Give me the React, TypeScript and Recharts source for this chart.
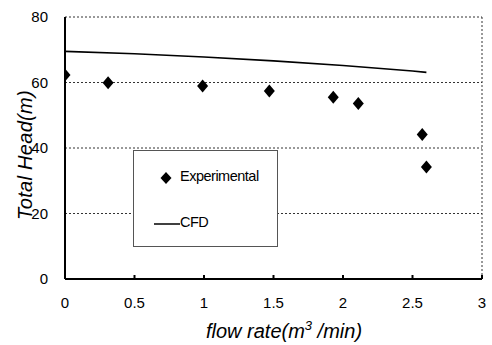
import React from 'react';
import { ComposedChart, Scatter, Line, XAxis, YAxis, CartesianGrid, ReferenceLine, Legend, Label } from 'recharts';

// measured points (flow rate m3/min, head m)
const expFlow = [0, 0.31, 0.99, 1.47, 1.93, 2.11, 2.57, 2.6];
const expHead = [62.3, 59.9, 58.9, 57.4, 55.5, 53.6, 44.1, 34.2];

// CFD curve
const cfdFlow = [0, 0.5, 1.0, 1.5, 2.0, 2.5, 2.6];
const cfdHead = [69.5, 68.8, 67.8, 66.6, 65.2, 63.5, 63.1];

const xTicks = [0, 0.5, 1, 1.5, 2, 2.5, 3];
const yTicks = [0, 20, 40, 60, 80];

const expData = expFlow.map((x, i) => ({ x, y: expHead[i] }));
const cfdData = cfdFlow.map((x, i) => ({ x, cfd: cfdHead[i] }));

const FONT = '"Liberation Sans", Arial, sans-serif';

const Diamond = (props: any) => {
  const { cx, cy } = props;
  if (cx == null || cy == null) return null;
  return <polygon points={`${cx},${cy - 6.5} ${cx + 5.5},${cy} ${cx},${cy + 6.5} ${cx - 5.5},${cy}`} fill="#000" />;
};

const XTick = (props: any) => {
  const { x, y, payload } = props;
  return (
    <g>
      {payload.value !== 0 && <line x1={x} x2={x} y1={y} y2={y - 4} stroke="#000" strokeWidth={2} />}
      <text x={x} y={y + 29} textAnchor="middle" fontSize={15} fontFamily={FONT} fill="#000">
        {payload.value}
      </text>
    </g>
  );
};

const YTitle = (props: any) => {
  const cx = 25;
  const cy = 155;
  return (
    <text
      x={cx}
      y={cy}
      transform={`rotate(-90, ${cx}, ${cy})`}
      textAnchor="middle"
      dominantBaseline="central"
      fontSize={20}
      fontStyle="italic"
      fontFamily={FONT}
      fill="#000"
      letterSpacing={0.3}
    >
      Total Head(m)
    </text>
  );
};

const LegendBox = () => (
  <div
    style={{
      width: 145,
      height: 97,
      boxSizing: 'border-box',
      border: '1px solid #555',
      background: '#fff',
      fontFamily: FONT,
      fontSize: 14.5,
      letterSpacing: -0.5,
      color: '#000',
      position: 'relative',
    }}
  >
    <svg width={20} height={14} style={{ position: 'absolute', left: 22, top: 20 }}>
      <polygon points="10,1 15.5,7 10,13 4.5,7" fill="#000" />
    </svg>
    <span style={{ position: 'absolute', left: 46, top: 17 }}>Experimental</span>
    <svg width={26} height={4} style={{ position: 'absolute', left: 20, top: 71 }}>
      <line x1={0} x2={26} y1={2} y2={2} stroke="#000" strokeWidth={1.5} />
    </svg>
    <span style={{ position: 'absolute', left: 46, top: 63 }}>CFD</span>
  </div>
);

export default function App() {
  return (
    <div style={{ position: 'absolute', left: 0, top: 0, width: 492, height: 345, background: '#fff' }}>
      <ComposedChart width={492} height={345} margin={{ top: 17, right: 10, bottom: 36, left: 0 }}>
        <CartesianGrid vertical={false} stroke="#333" strokeDasharray="2 2" />
        <XAxis
          type="number"
          dataKey="x"
          domain={[0, 3]}
          ticks={xTicks}
          height={30}
          tickSize={0}
          tickMargin={0}
          tick={<XTick />}
          axisLine={{ stroke: '#000', strokeWidth: 2 }}
          allowDataOverflow
        />
        <YAxis
          type="number"
          domain={[0, 80]}
          ticks={yTicks}
          width={65}
          tickLine={false}
          tickMargin={11}
          tick={{ fontSize: 15, fontFamily: FONT, fill: '#000' }}
          axisLine={{ stroke: '#000', strokeWidth: 2 }}
        >
          <Label content={<YTitle />} />
        </YAxis>
        <ReferenceLine x={3} stroke="#333" strokeDasharray="2 2" />
        <Legend
          layout="vertical"
          align="center"
          verticalAlign="middle"
          content={<LegendBox />}
          wrapperStyle={{ left: 133, top: 150, width: 145, height: 97 }}
        />
        <Line
          data={cfdData}
          dataKey="cfd"
          name="CFD"
          stroke="#000"
          strokeWidth={1.6}
          dot={false}
          type="linear"
          isAnimationActive={false}
        />
        <Scatter data={expData} dataKey="y" name="Experimental" shape={<Diamond />} isAnimationActive={false} />
      </ComposedChart>
      <svg width={492} height={30} style={{ position: 'absolute', left: 0, top: 315 }}>
        <text x={284} y={23} textAnchor="middle" fontFamily={FONT} fontStyle="italic" fontSize={20} fill="#000">
          flow rate(m
          <tspan dy={-8} fontSize={13}>3</tspan>
          <tspan dy={8}> /min)</tspan>
        </text>
      </svg>
    </div>
  );
}
